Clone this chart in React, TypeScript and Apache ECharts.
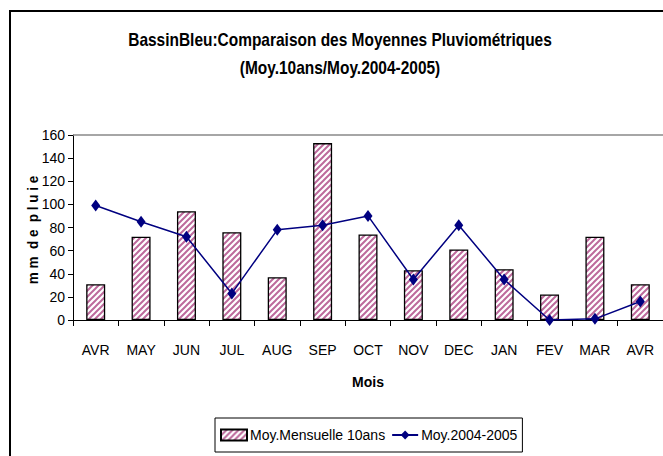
import React, { useEffect, useRef } from "react";
import * as echarts from "echarts";

const months = ["AVR", "MAY", "JUN", "JUL", "AUG", "SEP", "OCT", "NOV", "DEC", "JAN", "FEV", "MAR", "AVR"];
const moyMensuelle10ans = [31, 72, 94, 76, 37, 153, 74, 43, 61, 44, 22, 72, 31];
const moy20042005 = [99, 85, 72, 23, 78, 82, 90, 35, 82, 35, 0, 1, 16];
const yTicks = { min: 0, max: 160, interval: 20 };
const titleLines = ["BassinBleu:Comparaison des Moyennes Pluviométriques", "(Moy.10ans/Moy.2004-2005)"];

const FONT = "'Liberation Sans', Arial, sans-serif";

function makeHatch(): HTMLCanvasElement {
  const c = document.createElement("canvas");
  const s = 6;
  c.width = s;
  c.height = s;
  const ctx = c.getContext("2d")!;
  ctx.fillStyle = "#ffffff";
  ctx.fillRect(0, 0, s, s);
  ctx.strokeStyle = "#bd6a9c";
  ctx.lineWidth = 2;
  ctx.beginPath();
  ctx.moveTo(-1, s + 1);
  ctx.lineTo(s + 1, -1);
  ctx.moveTo(-1, 1);
  ctx.lineTo(1, -1);
  ctx.moveTo(s - 1, s + 1);
  ctx.lineTo(s + 1, s - 1);
  ctx.stroke();
  return c;
}

export default function App() {
  const ref = useRef<HTMLDivElement>(null);
  useEffect(() => {
    if (!ref.current) return;
    const chart = echarts.init(ref.current, undefined, { renderer: "svg" });
    const hatch = { image: makeHatch(), repeat: "repeat" } as any;
    chart.setOption({
      animation: false,
      backgroundColor: "#ffffff",
      graphic: [
        {
          type: "rect",
          shape: { x: 10, y: 11, width: 700, height: 500 },
          style: { fill: "none", stroke: "#000", lineWidth: 2 },
          silent: true,
          z: -1,
        },
        ...titleLines.map((t, i) => ({
          type: "text",
          x: 340,
          y: 40 + i * 28,
          scaleX: 0.86,
          style: {
            text: t,
            fontFamily: FONT,
            fontSize: 18,
            fontWeight: "bold",
            fill: "#000",
            align: "center",
            verticalAlign: "middle",
          },
        })),
        {
          type: "text",
          x: 33,
          y: 230,
          rotation: Math.PI / 2,
          scaleX: 0.9,
          style: {
            text: "m m  d e  p l u i e",
            fontFamily: FONT,
            fontSize: 15,
            fontWeight: "bold",
            fill: "#000",
            align: "center",
            verticalAlign: "middle",
          },
        },
      ],
      legend: {
        left: 215,
        top: 418,
        padding: [10, 5, 10, 5],
        borderColor: "#000",
        borderWidth: 1,
        itemGap: 6,
        itemWidth: 26,
        itemHeight: 11,
        textStyle: { fontFamily: FONT, fontSize: 14, color: "#000", padding: [0, 0, 0, -2] },
        data: [
          { name: "Moy.Mensuelle 10ans", icon: "rect" },
          { name: "Moy.2004-2005" },
        ],
      },
      grid: { left: 73, top: 135, width: 592, height: 185, containLabel: false },
      xAxis: {
        type: "category",
        data: months,
        boundaryGap: true,
        name: "Mois",
        nameLocation: "middle",
        nameGap: 55,
        nameTextStyle: { fontFamily: FONT, fontSize: 14, fontWeight: "bold", color: "#000" },
        axisLine: { lineStyle: { color: "#000", width: 1 } },
        axisTick: { show: true, length: 6, lineStyle: { color: "#000" } },
        axisLabel: { fontFamily: FONT, fontSize: 14, color: "#000", margin: 23, interval: 0 },
      },
      yAxis: {
        type: "value",
        min: yTicks.min,
        max: yTicks.max,
        interval: yTicks.interval,
        axisLine: { show: true, lineStyle: { color: "#000", width: 1 } },
        axisTick: { show: true, length: 5, lineStyle: { color: "#000" } },
        axisLabel: { fontFamily: FONT, fontSize: 14, color: "#000", margin: 8 },
        splitLine: { show: false },
      },
      series: [
        {
          name: "Moy.Mensuelle 10ans",
          type: "bar",
          data: moyMensuelle10ans,
          barWidth: 19,
          itemStyle: { color: hatch, borderColor: "#000", borderWidth: 1.3 },
          markLine: {
            silent: true,
            symbol: "none",
            label: { show: false },
            lineStyle: { color: "#888", type: "solid", width: 1.5 },
            data: [{ yAxis: 160 }],
          },
        },
        {
          name: "Moy.2004-2005",
          type: "line",
          data: moy20042005,
          symbol: "diamond",
          symbolSize: [9, 12],
          lineStyle: { color: "#000080", width: 1.5 },
          itemStyle: { color: "#000080" },
        },
      ],
    });
    return () => chart.dispose();
  }, []);
  return (
    <div
      ref={ref}
      style={{ position: "absolute", left: 0, top: 0, width: 663, height: 456 }}
    />
  );
}
